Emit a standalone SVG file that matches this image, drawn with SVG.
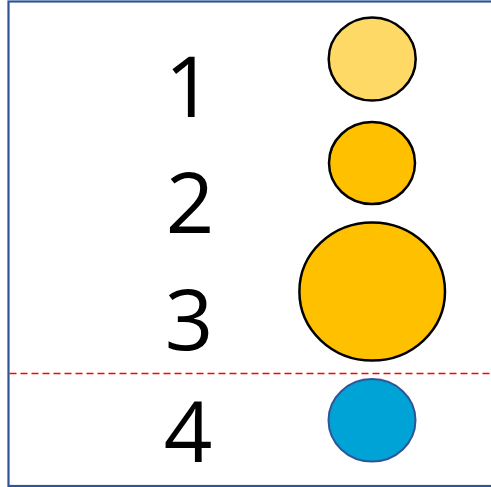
<svg xmlns="http://www.w3.org/2000/svg" width="491" height="487" viewBox="0 0 491 487">
<style>
.num{font-family:"Open Sans","Noto Sans","Liberation Sans",sans-serif;font-size:85px;fill:#000;text-anchor:middle}
.dot{stroke:#000;stroke-width:2.5}
</style>
<rect x="0" y="0" width="491" height="487" fill="#fff"/>
<rect id="frame" x="8.5" y="1.5" width="484" height="484.5" fill="none" stroke="#2F5597" stroke-width="2.2"/>
<g id="connectors">
<line x1="9.5" y1="373.5" x2="491" y2="373.5" stroke="#FF0000" stroke-width="1.6" stroke-dasharray="7,4"/>
</g>
<g id="n1"><text class="num" x="189" y="117">1</text><ellipse class="dot" cx="372.2" cy="59" rx="43.5" ry="41.5" fill="#FFD966"/></g>
<g id="n2"><text class="num" x="190" y="233">2</text><ellipse class="dot" cx="372" cy="163" rx="43" ry="41" fill="#FFC000"/></g>
<g id="n3"><text class="num" x="189" y="350">3</text><ellipse class="dot" cx="372.2" cy="291.5" rx="72.8" ry="69" fill="#FFC000"/></g>
<g id="n4"><text class="num" x="188" y="462">4</text><ellipse cx="372" cy="420.3" rx="43.5" ry="41.2" fill="#00A3D5" stroke="#2F5597" stroke-width="2"/></g>
</svg>
